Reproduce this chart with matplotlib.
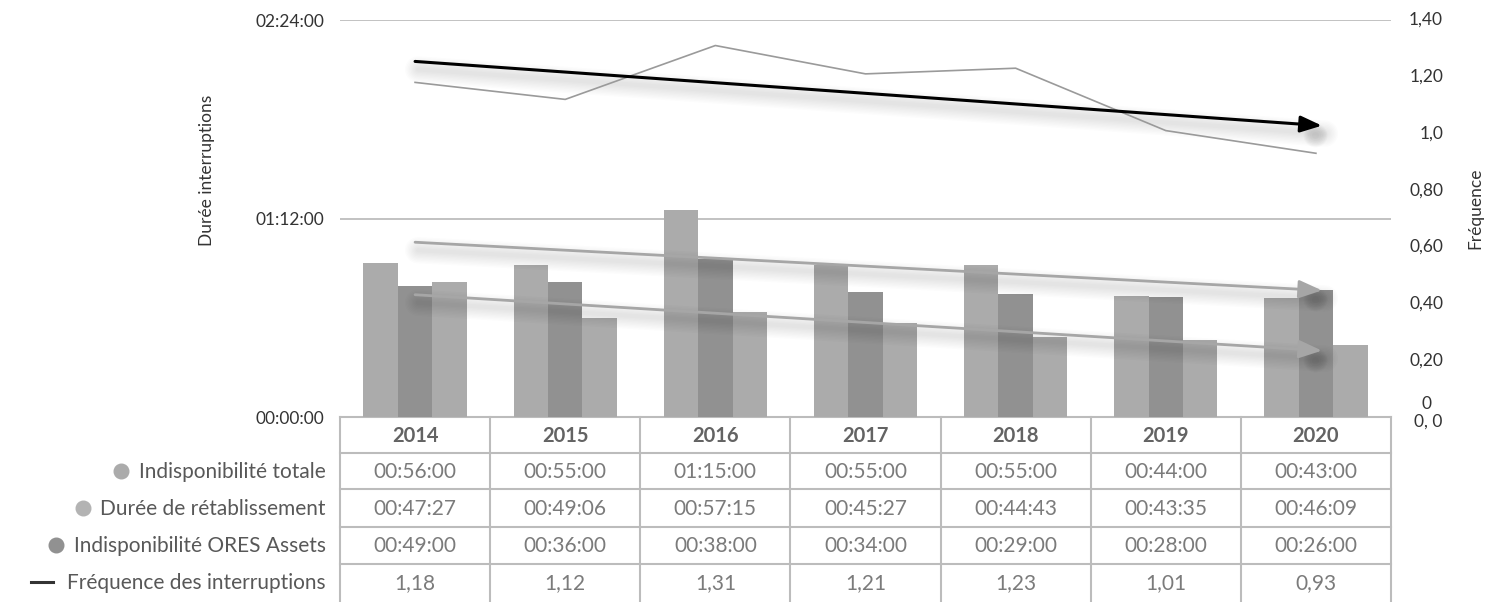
import numpy as np
import matplotlib
matplotlib.use("Agg")
import matplotlib.pyplot as plt
from matplotlib import transforms
from matplotlib.lines import Line2D

plt.rcParams['font.family'] = ['Lato', 'DejaVu Sans']

# ---------------- data ----------------
years = ["2014", "2015", "2016", "2017", "2018", "2019", "2020"]
indispo_totale = ["00:56:00", "00:55:00", "01:15:00", "00:55:00", "00:55:00", "00:44:00", "00:43:00"]
duree_retab = ["00:47:27", "00:49:06", "00:57:15", "00:45:27", "00:44:43", "00:43:35", "00:46:09"]
indispo_ores = ["00:49:00", "00:36:00", "00:38:00", "00:34:00", "00:29:00", "00:28:00", "00:26:00"]
frequence = [1.18, 1.12, 1.31, 1.21, 1.23, 1.01, 0.93]
row_labels = ["Indisponibilité totale", "Durée de rétablissement",
              "Indisponibilité ORES Assets", "Fréquence des interruptions"]
left_ticks_min = [0, 72, 144]
right_ticks = [0.2, 0.4, 0.6, 0.8, 1.0, 1.2, 1.4]
right_tick_labels = ["0,20", "0,40", "0,60", "0,80", "1,0", "1,20", "1,40"]


def to_min(s):
    h, m, sec = (int(v) for v in s.split(":"))
    return h * 60 + m + sec / 60.0


def fmt_hms(minutes):
    tot = int(round(minutes * 60))
    return f"{tot // 3600:02d}:{(tot % 3600) // 60:02d}:{tot % 60:02d}"


tot_m = np.array([to_min(s) for s in indispo_totale])
ret_m = np.array([to_min(s) for s in duree_retab])
ores_m = np.array([to_min(s) for s in indispo_ores])
freq = np.array(frequence)
x = np.arange(len(years))

# ---------------- figure ----------------
W, H = 1497, 602
fig = plt.figure(figsize=(W / 100, H / 100), dpi=100)


def px_box(x0, y0, x1, y1):
    return [x0 / W, 1 - y1 / H, (x1 - x0) / W, (y1 - y0) / H]


TICK_FS = 12.5
TXT = "#333333"

ax = fig.add_axes(px_box(340, 20, 1391, 417))
ax2 = ax.twinx()
ax.set_zorder(1)
ax2.set_zorder(2)
ax.patch.set_visible(False)
ax2.patch.set_visible(False)

LIGHT = "#ababab"
DARK = "#919191"
bw = 0.229
ax.bar(x - bw, tot_m, bw, color=LIGHT, zorder=2)
ax.bar(x, ret_m, bw, color=DARK, zorder=2)
ax.bar(x + bw, ores_m, bw, color=LIGHT, zorder=2)

ax.set_xlim(-0.5, len(years) - 0.5)
ax.set_ylim(0, 144)
ax.set_yticks(left_ticks_min)
ax.set_yticklabels([fmt_hms(v) for v in left_ticks_min])
ax.tick_params(axis='y', length=0, pad=11, labelsize=TICK_FS, labelcolor=TXT)
ax.set_xticks([])
for v in left_ticks_min[1:]:
    ax.axhline(v, color="#bdbdbd", lw=1.3, zorder=0)
for sp in ax.spines.values():
    sp.set_visible(False)
for sp in ax2.spines.values():
    sp.set_visible(False)

ax2.set_ylim(0, 1.4)
ax2.set_yticks(right_ticks)
ax2.set_yticklabels(right_tick_labels)
ax2.tick_params(axis='y', length=0, pad=37.5, labelsize=TICK_FS, labelcolor=TXT)
for lab in ax2.get_yticklabels():
    lab.set_horizontalalignment('right')
    lab.set_verticalalignment('center')
# the odd "0, 0" label with its raised zero, as in the reference
fig.text(1442 / W, 1 - 422 / H, "0, 0", fontsize=TICK_FS, color=TXT, ha='right', va='center')
fig.text(1427 / W, 1 - 404 / H, "0", fontsize=TICK_FS, color=TXT, ha='center', va='center')


def shadow(axis, xs, ys, dy=-8):
    tr = transforms.offset_copy(axis.transData, fig=fig, x=3, y=dy, units='dots')
    for k in range(9):
        axis.plot(xs, ys, color="black", lw=3 + 2.0 * k, alpha=0.011,
                  solid_capstyle='round', transform=tr, zorder=3)
    # soft blob under the arrow head
    trh = transforms.offset_copy(axis.transData, fig=fig, x=-7, y=-9, units='dots')
    for k in range(7):
        axis.scatter([xs[1]], [ys[1]], s=25 + 45 * k, color="black", alpha=0.02,
                     linewidths=0, transform=trh, zorder=3)
    return tr


def trend_arrow(axis, vals, color, lw, hw, hl, x_end=6.04):
    p = np.polyfit(x, vals, 1)
    xs = np.array([0.0, x_end])
    ys = np.polyval(p, xs)
    shadow(axis, xs, ys)
    axis.annotate("", xy=(xs[1], ys[1]), xytext=(xs[0], ys[0]),
                  arrowprops=dict(arrowstyle=f"-|>,head_width={hw},head_length={hl}",
                                  color=color, lw=lw, shrinkA=0, shrinkB=0),
                  zorder=5)


# grey trend arrows on duration axis
trend_arrow(ax, tot_m, "#a6a6a6", 2.0, 0.55, 1.4)
trend_arrow(ax, ores_m, "#a6a6a6", 2.0, 0.55, 1.4)

# frequency line and its trend
ax2.plot(x, freq, color="#9a9a9a", lw=1.2, zorder=4)
trend_arrow(ax2, freq, "black", 2.2, 0.5, 1.3)

# axis titles
fig.text(207 / W, 1 - 170 / H, "Durée interruptions", rotation=90, ha='center', va='center',
         fontsize=12.5, color=TXT)
fig.text(1475 / W, 1 - 208 / H, "Fréquence", rotation=90, ha='center', va='center',
         fontsize=12.5, color=TXT)

# ---------------- table ----------------
tax = fig.add_axes(px_box(340, 417, 1391, 602))
tax.set_xlim(-0.5, len(years) - 0.5)
tax.set_ylim(602, 417)
tax.axis('off')
GRID = "#bcbcbc"
for xv in np.arange(-0.5, len(years), 1.0):
    tax.plot([xv, xv], [417, 602], color=GRID, lw=1.5, clip_on=False)
for yv in [417, 453, 489, 527, 564]:
    tax.plot([-0.5, len(years) - 0.5], [yv, yv], color=GRID, lw=1.5, clip_on=False)

row_y = [472, 509, 546, 583]
header_y = 436
for i, yr in enumerate(years):
    tax.text(i, header_y, yr, ha='center', va='center', fontsize=14.5, fontweight='bold',
             color="#636363")
rows = [indispo_totale, duree_retab, indispo_ores, [f"{v:.2f}".replace(".", ",") for v in frequence]]
for r, vals in enumerate(rows):
    for i, v in enumerate(vals):
        tax.text(i, row_y[r], v, ha='center', va='center', fontsize=15, color="#7b7b7b")

# row labels with markers
marker_colors = [LIGHT, "#b3b3b3", DARK]
fig.canvas.draw()
renderer = fig.canvas.get_renderer()
for r, lab in enumerate(row_labels):
    yfig = 1 - row_y[r] / H
    t = fig.text(326 / W, yfig, lab, ha='right', va='center', fontsize=15, color="#585858")
    bb = t.get_window_extent(renderer)
    left_px = bb.x0
    if r < 3:
        fig.add_artist(Line2D([(left_px - 18) / W], [yfig + 1 / H], marker='o', markersize=10.5,
                              color=marker_colors[r], linestyle='none'))
    else:
        fig.add_artist(Line2D([(left_px - 36) / W, (left_px - 14) / W], [yfig + 1 / H, yfig + 1 / H],
                              color="#333333", lw=2.2))

fig.savefig("out.png", dpi=100)
